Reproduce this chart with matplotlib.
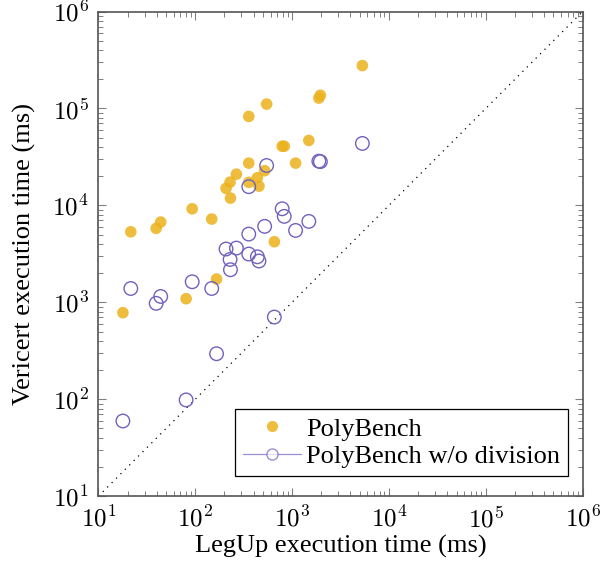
import matplotlib
matplotlib.use("Agg")
import matplotlib.pyplot as plt
from matplotlib.lines import Line2D
from matplotlib.ticker import LogLocator, NullFormatter, FuncFormatter
import numpy as np

# LegUp execution time (ms), shared by both series
legup_ms = [5320, 1960, 1890, 546, 357, 357, 357, 790, 830, 1489, 1087, 521,
            266, 438, 455, 229, 231, 208, 93, 148, 44, 39.5, 21.6, 656, 166,
            80.5, 17.9]
# Vericert execution time (ms)
vericert_ms = [277000, 137000, 128000, 111000, 82800, 27300, 17300, 40800,
               40800, 46800, 27300, 22800, 21000, 19300, 15800, 17400, 11900,
               15000, 9230, 7230, 6730, 5800, 5340, 4220, 1740, 1090, 782]
vericert_nodiv_ms = [43600, 28300, 28600, 25800, 15600, 5060, 3150, 9230,
                     7710, 6840, 5520, 6080, 3630, 2950, 2670, 2770, 2170,
                     3550, 1630, 1390, 1150, 977, 1390, 705, 295, 98.5, 59.7]

labels = ["PolyBench", "PolyBench w/o division"]
yellow = "#ebb21c"
purple = "#6f63bd"

plt.rcParams["font.family"] = "Liberation Serif"
plt.rcParams["mathtext.fontset"] = "cm"

fig = plt.figure(figsize=(6.0, 5.77), dpi=100)
ax = fig.add_axes([0.164, 0.140, 0.807, 0.840])

ax.plot([10, 1e6], [10, 1e6], color="black", linestyle=(0, (1, 4)), linewidth=0.9)
ax.scatter(legup_ms, vericert_ms, s=70, color=yellow, alpha=0.85,
           edgecolors="none", zorder=3)
ax.scatter(legup_ms, vericert_nodiv_ms, s=95, facecolors="none",
           edgecolors=purple, linewidths=1.0, zorder=3)

ax.set_xscale("log")
ax.set_yscale("log")
ax.set_xlim(10, 1e6)
ax.set_ylim(10, 1e6)
pow_fmt = FuncFormatter(lambda v, _: r"$10^{%d}$" % int(round(np.log10(v))))
for axis in (ax.xaxis, ax.yaxis):
    axis.set_major_locator(LogLocator(base=10, numticks=10))
    axis.set_minor_locator(LogLocator(base=10, subs=range(2, 10), numticks=10))
    axis.set_major_formatter(pow_fmt)
    axis.set_minor_formatter(NullFormatter())
ax.tick_params(which="both", direction="in", top=True, right=True,
               colors="#808080", labelcolor="black", labelsize=18)
ax.tick_params(which="major", length=6, width=0.8)
ax.tick_params(which="minor", length=3.5, width=0.7)
ax.tick_params(axis="y", which="major", pad=7)
ax.tick_params(axis="x", which="major", pad=7)
for sp in ax.spines.values():
    sp.set_color("#555555")
    sp.set_linewidth(1.2)

ax.set_xlabel("LegUp execution time (ms)", fontsize=19, labelpad=2)
ax.set_ylabel("Vericert execution time (ms)", fontsize=19, labelpad=12)

handles = [
    Line2D([], [], linestyle="none", marker="o", markersize=8,
           markerfacecolor=yellow, markeredgecolor="none", alpha=0.85),
    Line2D([], [], color=purple, linewidth=0.9, alpha=0.7, marker="o",
           markersize=8, markerfacecolor="white", markeredgecolor=purple),
]
leg = ax.legend(handles, labels, loc="lower right", fontsize=19,
                frameon=True, fancybox=False, edgecolor="black",
                framealpha=1, borderpad=0.3, handlelength=2.2,
                handletextpad=0.2, labelspacing=0.15, borderaxespad=0,
                bbox_to_anchor=(0.97, 0.042))
leg.get_frame().set_linewidth(0.9)

fig.savefig("out.png", dpi=100)
